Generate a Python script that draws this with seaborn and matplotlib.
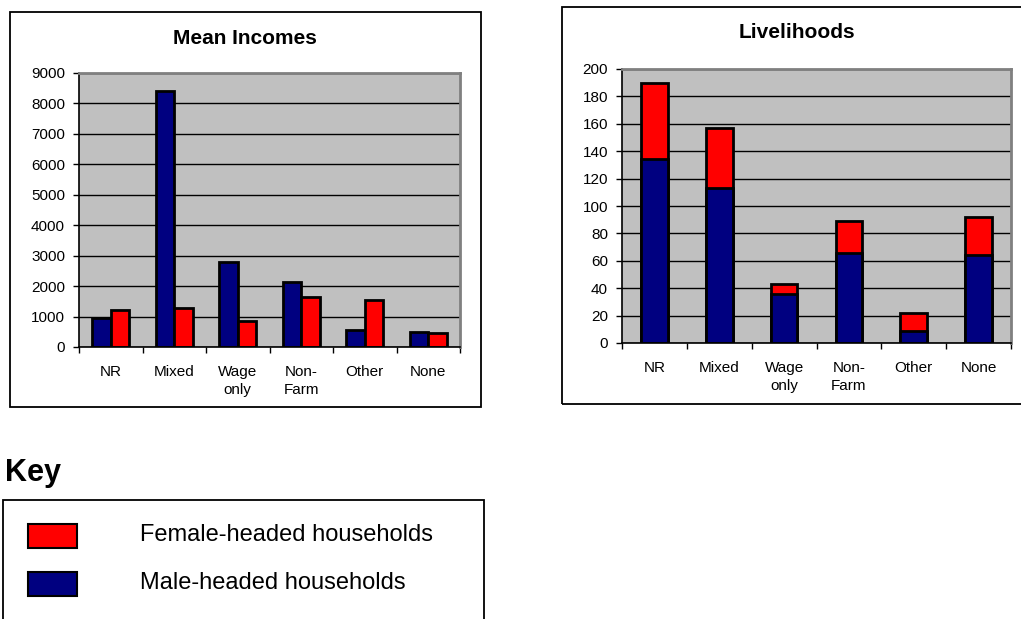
import matplotlib
matplotlib.use('Agg')
import matplotlib.pyplot as plt
from matplotlib.patches import Rectangle
from matplotlib.ticker import FixedLocator
import pandas as pd
import seaborn as sns

# data
categories = ['NR', 'Mixed', 'Wage only', 'Non-Farm', 'Other', 'None']
tick_labels = ['NR', 'Mixed', 'Wage\nonly', 'Non-\nFarm', 'Other', 'None']
income_male = [950, 8400, 2800, 2130, 550, 490]
income_female = [1200, 1280, 870, 1650, 1560, 470]
count_male = [134, 113, 36, 66, 9, 64]
count_female = [56, 44, 7, 23, 13, 28]
key_labels = ['Female-headed households', 'Male-headed households']

NAVY = '#000080'
RED = '#FF0000'
GREY_BG = '#C0C0C0'

W, H = 1021, 619

plt.rcParams['font.family'] = ['Liberation Sans', 'DejaVu Sans']

fig = plt.figure(figsize=(W / 100, H / 100), dpi=100)


def fx(x):
    return x / W


def fy(y):
    return 1 - y / H


def box(x0, y0, x1, y1, **kw):
    # rectangle in pixel coords (top-left origin)
    r = Rectangle((fx(x0), fy(y1)), fx(x1) - fx(x0), fy(y0) - fy(y1),
                  transform=fig.transFigure, figure=fig, clip_on=False, **kw)
    fig.patches.append(r)


def style_axes(ax, ymax, step):
    ax.set_facecolor(GREY_BG)
    ax.set_ylim(0, ymax)
    ax.set_yticks(range(0, ymax + 1, step))
    ax.yaxis.grid(True, color='black', lw=1)
    ax.set_axisbelow(True)
    ax.set_xlim(-0.5, len(categories) - 0.5)
    ax.set_xticks(range(len(categories)))
    ax.set_xticklabels(tick_labels, fontsize=11, linespacing=1.35)
    ax.xaxis.set_minor_locator(FixedLocator([i - 0.5 for i in range(len(categories) + 1)]))
    ax.tick_params(axis='x', which='major', length=0, pad=13)
    ax.tick_params(axis='x', which='minor', length=4, width=1, direction='out', color='black')
    ax.tick_params(axis='y', length=4, width=1, pad=6, labelsize=11)
    ax.set_xlabel('')
    ax.set_ylabel('')
    for s in ['left', 'bottom']:
        ax.spines[s].set_color('black')
        ax.spines[s].set_linewidth(1.2)
    for s in ['top', 'right']:
        ax.spines[s].set_color('#808080')
        ax.spines[s].set_linewidth(2)


# Mean Incomes (grouped)
ax1 = fig.add_axes([fx(79), fy(347), fx(460) - fx(79), fy(73) - fy(347)])
df_inc = pd.DataFrame({
    'cat': categories * 2,
    'val': income_male + income_female,
    'grp': ['Male'] * 6 + ['Female'] * 6,
})
sns.barplot(data=df_inc, x='cat', y='val', hue='grp', order=categories,
            hue_order=['Male', 'Female'], palette=[NAVY, RED], saturation=1,
            width=0.58, edgecolor='black', linewidth=2, errorbar=None,
            legend=False, ax=ax1)
style_axes(ax1, 9000, 1000)

# Livelihoods (stacked)
ax2 = fig.add_axes([fx(622), fy(343), fx(1011) - fx(622), fy(69) - fy(343)])
count_total = [m + f for m, f in zip(count_male, count_female)]
sns.barplot(x=categories, y=count_total, order=categories, color=RED, saturation=1,
            width=0.41, edgecolor='black', linewidth=2, errorbar=None, ax=ax2)
sns.barplot(x=categories, y=count_male, order=categories, color=NAVY, saturation=1,
            width=0.41, edgecolor='black', linewidth=2, errorbar=None, ax=ax2)
style_axes(ax2, 200, 20)

# titles
fig.text(fx(245), fy(38), 'Mean Incomes', ha='center', va='center',
         fontsize=15, fontweight='bold')
fig.text(fx(797), fy(33), 'Livelihoods', ha='center', va='center',
         fontsize=15, fontweight='bold')

# outer frames
box(10, 12, 481, 407, fill=False, edgecolor='black', lw=1.3)
box(562, 7, 1030, 404, fill=False, edgecolor='black', lw=1.3)

# key
fig.text(fx(5), fy(473), 'Key', ha='left', va='center', fontsize=22, fontweight='bold')
box(3, 500, 484, 640, fill=False, edgecolor='black', lw=1.3)
box(28, 524, 77, 548, facecolor=RED, edgecolor='black', lw=1.5)
box(28, 572, 77, 596, facecolor=NAVY, edgecolor='black', lw=1.5)
fig.text(fx(140), fy(535), key_labels[0], ha='left', va='center', fontsize=17)
fig.text(fx(140), fy(583), key_labels[1], ha='left', va='center', fontsize=17)

fig.savefig('out.png', dpi=100)
